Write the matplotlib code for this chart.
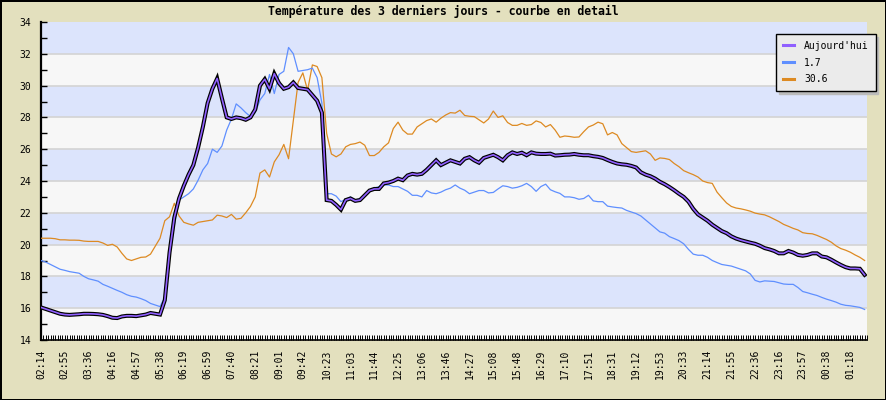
import numpy as np
import matplotlib
matplotlib.use('Agg')
import matplotlib.pyplot as plt
from matplotlib.lines import Line2D

#data, one value every 2 samples
aujourdhui = [16.05, 15.95, 15.85, 15.75, 15.65, 15.6, 15.58, 15.6, 15.62, 15.65,
              15.65, 15.64, 15.62, 15.58, 15.5, 15.4, 15.38, 15.48, 15.52, 15.52,
              15.5, 15.55, 15.6, 15.7, 15.65, 15.6, 16.5, 19.5, 21.7, 22.9,
              23.7, 24.4, 25.0, 26.1, 27.4, 28.9, 29.8, 30.45, 29.2, 28.0,
              27.9, 28.0, 27.95, 27.85,
              28.0, 28.5, 30.0, 30.4, 29.8, 30.75, 30.15, 29.8, 29.9, 30.2,
              29.85, 29.8, 29.75, 29.4, 29.05, 28.3, 22.8, 22.75, 22.5, 22.2,
              22.8, 22.9, 22.75, 22.8, 23.1, 23.4, 23.5, 23.5, 23.85, 23.9,
              24.0, 24.15, 24.05, 24.35, 24.45, 24.4, 24.45, 24.7, 25.0, 25.3,
              25.0, 25.15, 25.3, 25.2,
              25.1, 25.4, 25.5, 25.3, 25.15, 25.45, 25.55, 25.65, 25.5, 25.3,
              25.62, 25.8, 25.7, 25.78, 25.62, 25.8, 25.72, 25.7, 25.7, 25.72,
              25.6, 25.62, 25.65, 25.66, 25.7, 25.65, 25.62, 25.62, 25.56, 25.52,
              25.45, 25.32, 25.2, 25.1, 25.05, 25.02, 24.95, 24.85, 24.55, 24.4,
              24.3, 24.15, 23.95,
              23.8, 23.62, 23.42, 23.2, 23.0, 22.7, 22.25, 21.9, 21.7, 21.5,
              21.25, 21.05, 20.85, 20.72, 20.52, 20.38, 20.28, 20.2, 20.12, 20.05,
              19.93, 19.78, 19.7, 19.6, 19.45, 19.45, 19.6, 19.5, 19.35, 19.3,
              19.35, 19.45, 19.45, 19.25, 19.2, 19.05, 18.88, 18.72, 18.58, 18.5,
              18.5, 18.48, 18.1]

serie_17 = [19.0, 18.9, 18.75, 18.6, 18.45, 18.38, 18.3, 18.25, 18.2, 18.0,
            17.85, 17.78, 17.7, 17.5, 17.38, 17.25, 17.12, 17.0, 16.85, 16.75,
            16.7, 16.6, 16.48, 16.3, 16.2, 16.1, 16.7, 19.3, 21.2, 22.8,
            23.0, 23.2, 23.5, 24.05, 24.7, 25.1, 26.0, 25.8, 26.2, 27.2,
            27.9, 28.85, 28.6, 28.3,
            28.05, 28.3, 29.1, 29.5, 30.7, 29.5, 30.7, 30.9, 32.4, 32.0,
            30.9, 30.95, 31.0, 31.1, 30.5, 28.9, 23.2, 23.2, 23.05, 22.7,
            22.85, 23.0, 22.8, 22.9, 23.1, 23.4, 23.55, 23.65, 23.75, 23.75,
            23.65, 23.65, 23.5, 23.35, 23.1, 23.1, 23.0, 23.4, 23.25, 23.2,
            23.3, 23.45, 23.55, 23.75,
            23.55, 23.42, 23.2, 23.3, 23.4, 23.4, 23.25, 23.28, 23.5, 23.7,
            23.65, 23.55, 23.6, 23.7, 23.85, 23.65, 23.35, 23.65, 23.8, 23.45,
            23.32, 23.22, 23.0, 23.0, 22.95, 22.85, 22.9, 23.1, 22.75, 22.7,
            22.7, 22.42, 22.37, 22.33, 22.3, 22.15, 22.05, 21.95, 21.8, 21.55,
            21.3, 21.05, 20.8,
            20.72, 20.5, 20.38, 20.25, 20.05, 19.7, 19.4, 19.33, 19.33, 19.2,
            19.0, 18.87, 18.75, 18.7, 18.65, 18.55, 18.45, 18.35, 18.15, 17.75,
            17.65, 17.72, 17.7, 17.68, 17.6, 17.52, 17.5, 17.5, 17.3, 17.05,
            16.97, 16.88, 16.8, 16.68, 16.57, 16.48, 16.38, 16.25, 16.18, 16.15,
            16.1, 16.05, 15.92]

serie_306 = [20.4, 20.4, 20.4, 20.37, 20.3, 20.3, 20.28, 20.28, 20.27, 20.22,
             20.2, 20.2, 20.2, 20.1, 19.95, 20.02, 19.85, 19.45, 19.1, 19.0,
             19.1, 19.2, 19.22, 19.4, 19.9, 20.4, 21.5, 21.75, 22.6, 21.8,
             21.4, 21.3, 21.22, 21.4, 21.45, 21.5, 21.55, 21.85, 21.8, 21.7,
             21.9, 21.6, 21.65, 22.0,
             22.4, 23.0, 24.5, 24.7, 24.25, 25.2, 25.65, 26.3, 25.4, 27.8,
             30.2, 30.8, 29.7, 31.3, 31.2, 30.5, 27.0, 25.7, 25.52, 25.7,
             26.15, 26.3, 26.35, 26.45, 26.25, 25.6, 25.6, 25.8, 26.15, 26.4,
             27.3, 27.7, 27.2, 26.95, 26.95, 27.4, 27.6, 27.8, 27.9, 27.7,
             27.95, 28.15, 28.3, 28.27,
             28.45, 28.12, 28.07, 28.05, 27.85, 27.65, 27.9, 28.4, 28.0, 28.1,
             27.68, 27.5, 27.5, 27.62, 27.5, 27.55, 27.78, 27.68, 27.4, 27.55,
             27.2, 26.75, 26.83, 26.8, 26.75, 26.77, 27.1, 27.4, 27.52, 27.7,
             27.6, 26.9, 27.05, 26.9, 26.35, 26.1, 25.85, 25.8, 25.85, 25.9,
             25.7, 25.3, 25.45,
             25.42, 25.35, 25.1, 24.9, 24.65, 24.52, 24.4, 24.25, 24.0, 23.9,
             23.85, 23.3, 22.95, 22.62, 22.4, 22.3, 22.25, 22.18, 22.1, 21.98,
             21.92, 21.87, 21.75, 21.6, 21.45, 21.27, 21.15, 21.02, 20.92, 20.75,
             20.7, 20.68, 20.58, 20.45, 20.32, 20.15, 19.92, 19.75, 19.65, 19.52,
             19.35, 19.2, 19.0]

#one label every 10 samples
heures = ['02:14', '02:55', '03:36', '04:16', '04:57', '05:38', '06:19', '06:59',
          '07:40', '08:21', '09:01', '09:42', '10:23', '11:03', '11:44', '12:25',
          '13:06', '13:46', '14:27', '15:08', '15:48', '16:29', '17:10', '17:51',
          '18:31', '19:12', '19:53', '20:33', '21:14', '21:55', '22:36', '23:16',
          '23:57', '00:38', '01:18']
nb_points = 348

noms = ["Aujourd'hui", '1.7', '30.6']
couleurs = ['#9060ff', '#5f8fff', '#dd8a22']

#figure
W, H = 886, 400
fig = plt.figure(figsize=(W/100, H/100), dpi=100)
fig.patch.set_facecolor('#e3e0be')
fig.patch.set_edgecolor('black')
fig.patch.set_linewidth(2)

ax = fig.add_axes([41/W, 1-340/H, (867-41)/W, (340-22)/H])
ax.set_xlim(0, nb_points-1)
ax.set_ylim(14, 34)
ax.set_facecolor('#f7f7f7')

#bands
for y in range(14, 34, 2):
    if (y//2) % 2 == 0:
        ax.axhspan(y, y+2, color='#dce4fc', lw=0, zorder=0)
for y in range(16, 34, 2):
    ax.axhline(y, color='#d4d4d4', lw=1.2, zorder=1)

x = np.arange(len(aujourdhui))*2
ax.plot(x, serie_306, color=couleurs[2], lw=0.9, zorder=3)
ax.plot(x, serie_17, color=couleurs[1], lw=0.9, zorder=3)
ax.plot(x, aujourdhui, color='black', lw=2.9, zorder=4, solid_joinstyle='miter')
ax.plot(x, aujourdhui, color=couleurs[0], lw=1.2, zorder=5)

#axes
for s in ['top', 'right']:
    ax.spines[s].set_visible(False)
ax.spines['left'].set_linewidth(1.6)
ax.spines['bottom'].set_linewidth(1.2)

ax.set_yticks(range(14, 35, 2))
ax.set_yticks(range(15, 34, 2), minor=True)
ax.set_xticks(np.arange(0, 10*len(heures), 10))
ax.set_xticklabels(heures, rotation=90)
ax.set_xticks(np.arange(nb_points), minor=True)
ax.tick_params(axis='both', which='both', direction='in', color='black')
ax.tick_params(axis='y', which='both', length=4, width=1, pad=7)
ax.tick_params(axis='x', which='both', length=3.5, width=0.7, pad=7)
for lab in ax.get_xticklabels() + ax.get_yticklabels():
    lab.set_family('DejaVu Sans Mono')
    lab.set_fontsize(7)

fig.text(0.5, 1-11/H, 'Température des 3 derniers jours - courbe en detail',
         ha='center', va='center', family='DejaVu Sans Mono', weight='bold', size=8.3)

#legend
handles = [Line2D([], [], color=c, lw=2.2) for c in couleurs]
leg = ax.legend(handles, noms, loc='upper left', bbox_to_anchor=(776/W, 1-34/H),
                bbox_transform=fig.transFigure, borderaxespad=0, fancybox=False,
                framealpha=1, facecolor='#ebebeb', edgecolor='black',
                handlelength=1.2, handletextpad=1.0, labelspacing=0.7, borderpad=0.7,
                prop={'family': 'DejaVu Sans Mono', 'size': 7},
                shadow={'color': '#bbbbbb', 'alpha': 1})
leg.get_frame().set_linewidth(1)
leg.set_zorder(10)

fig.savefig('out.png', dpi=100)
